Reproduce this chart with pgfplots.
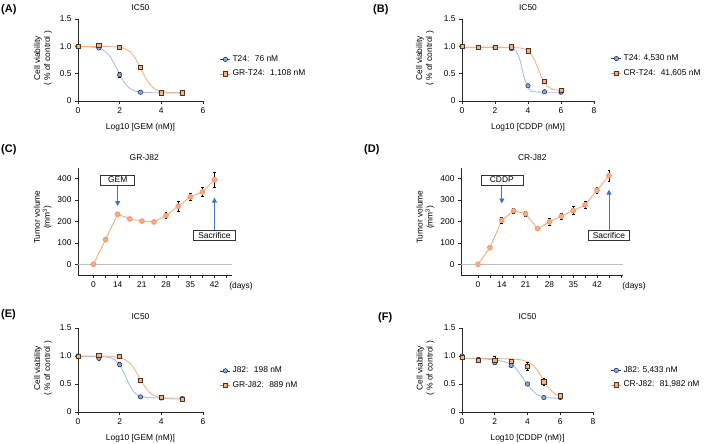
\documentclass[border=0pt]{standalone}
\usepackage{fontspec}
\setmainfont{Liberation Sans}
\usepackage{pgfplots}
\pgfplotsset{compat=1.18}
\usetikzlibrary{arrows.meta}

\definecolor{bfill}{HTML}{8FAADC}
\definecolor{bedge}{HTML}{1F3864}
\definecolor{ofill}{HTML}{F4B183}
\definecolor{oedge}{HTML}{4A3320}
\definecolor{bline}{HTML}{A4BEE6}
\definecolor{oline}{HTML}{F4B183}
\definecolor{arrowblue}{HTML}{4472C4}

\newcommand{\fs}{\fontsize{8.4}{10}\selectfont}

\tikzset{
  box/.style={draw=black!80, fill=white, font=\fs, inner xsep=3pt, inner ysep=1.5pt,
    minimum height=10pt},
  arr/.style={arrowblue, line width=0.8pt, -{Triangle[length=5pt, width=5pt]}}
}

\pgfplotsset{
  base/.style={scale only axis, anchor=south west, clip=false,
    axis x line*=bottom, axis y line*=left, tick align=outside,
    major tick length=3pt, font=\fs, tick label style={font=\fs},
    /pgf/number format/assume math mode=true,
    axis line style={line width=0.6pt, black!85},
    tick style={line width=0.6pt, black!85}},
  ic/.style={base, ymin=0, ymax=1.5, xmin=0,
    ytick={0,0.5,1,1.5}, yticklabels={0,0.5,1.0,1.5},
    title={IC50},
    title style={at={(axis description cs:0.5,1)}, anchor=center, yshift=5pt},
    ylabel={Cell viability\\( \% of control )},
    ylabel style={align=center, at={(axis description cs:-0.28,0.52)}, anchor=center},
    xlabel style={at={(axis description cs:0.5,0)}, anchor=center, yshift=-26pt},
    legend style={draw=none, fill=none, anchor=west, font=\fs, row sep=3pt,
      inner sep=0pt, cells={anchor=west}},
    legend image code/.code={
      \draw[#1, mark=none, solid] (0pt,0pt) -- (10pt,0pt);
      \draw[#1] plot coordinates {(5pt,0pt)};}},
  curveb/.style={bline, line width=0.9pt, smooth, no marks, forget plot},
  curveo/.style={oline, line width=0.9pt, smooth, no marks, forget plot},
  ptb/.style={only marks, mark=*, mark size=2.2pt,
    mark options={fill=bfill, draw=bedge, line width=0.6pt}, draw=bedge,
    error bars/.cd, y dir=both, y explicit,
    error bar style={black, line width=0.5pt},
    error mark options={rotate=90, mark size=1.3pt, black, line width=0.5pt}},
  pto/.style={only marks, mark=square*, mark size=2.1pt,
    mark options={fill=ofill, draw=oedge, line width=0.6pt}, draw=oline!80!black,
    error bars/.cd, y dir=both, y explicit,
    error bar style={black, line width=0.5pt},
    error mark options={rotate=90, mark size=1.3pt, black, line width=0.5pt}},
  tumor/.style={base, ymin=-50, ymax=450, ytick={0,100,200,300,400},
    height=107pt,
    ylabel={Tumor volume\\(mm\textsuperscript{3})},
    ylabel style={align=center, anchor=center},
    xlabel={(days)},
    xlabel style={at={(axis description cs:1,0)}, anchor=center},
    title style={anchor=center}},
  tline/.style={oline, line width=1pt, mark=*, mark size=2.3pt,
    mark options={fill=ofill, draw=ofill!85!red}, 
    error bars/.cd, y dir=both, y explicit,
    error bar style={black, line width=0.6pt},
    error mark options={rotate=90, mark size=1.4pt, black, line width=0.6pt}}
}

\begin{document}
\begin{tikzpicture}
\useasboundingbox (0pt,0pt) rectangle (709pt,-444pt);

\node[anchor=west, font=\bfseries\fontsize{11}{12}\selectfont, inner sep=0pt] at (1pt,-10pt) {(A)};
\node[anchor=west, font=\bfseries\fontsize{11}{12}\selectfont, inner sep=0pt] at (373pt,-10pt) {(B)};
\node[anchor=west, font=\bfseries\fontsize{11}{12}\selectfont, inner sep=0pt] at (1pt,-150pt) {(C)};
\node[anchor=west, font=\bfseries\fontsize{11}{12}\selectfont, inner sep=0pt] at (364pt,-150pt) {(D)};
\node[anchor=west, font=\bfseries\fontsize{11}{12}\selectfont, inner sep=0pt] at (1pt,-315pt) {(E)};
\node[anchor=west, font=\bfseries\fontsize{11}{12}\selectfont, inner sep=0pt] at (378pt,-318pt) {(F)};

% (A) GEM, T24 vs GR-T24
\begin{axis}[ic, at={(78pt,-101pt)}, width=125pt, height=82pt, xmax=6,
  xtick={0,2,4,6}, xlabel={Log10 [GEM (nM)]},
  legend style={at={(axis description cs:1.136,0.42)}}]
\addplot[curveb] coordinates {(0,0.999)(0.5,0.995)(1,0.968)(1.25,0.924)(1.5,0.832)(1.75,0.675)(2,0.483)(2.25,0.323)(2.5,0.229)(2.75,0.183)(3,0.164)(3.5,0.152)(4,0.150)(5,0.150)};
\addplot[curveo] coordinates {(0,1.0)(1,0.998)(1.5,0.997)(2,0.982)(2.25,0.956)(2.5,0.898)(2.75,0.782)(3,0.606)(3.25,0.418)(3.5,0.282)(3.75,0.208)(4,0.174)(4.5,0.154)(5,0.151)};
\addplot[ptb] coordinates {(0,1.0)+-(0,0.01) (1,0.97)+-(0,0.03) (2,0.48)+-(0,0.05) (3,0.16)+-(0,0.01) (4,0.15)+-(0,0.01) (5,0.15)+-(0,0.01)};
\addlegendentry{T24:~ 76 nM}
\addplot[pto] coordinates {(0,1.0)+-(0,0.01) (1,1.02)+-(0,0.02) (2,0.98)+-(0,0.02) (3,0.61)+-(0,0.02) (4,0.15)+-(0,0.01) (5,0.15)+-(0,0.01)};
\addlegendentry{GR-T24:~ 1,108 nM}
\end{axis}

% (B) CDDP, T24 vs CR-T24
\begin{axis}[ic, at={(462pt,-101pt)}, width=132pt, height=82pt, xmax=8,
  xtick={0,2,4,6,8}, xlabel={Log10 [CDDP (nM)]},
  legend style={at={(axis description cs:1.129,0.43)}}]
\addplot[curveb] coordinates {(0,0.98)(1,0.98)(2,0.98)(2.5,0.979)(3,0.968)(3.25,0.924)(3.5,0.760)(3.75,0.450)(4,0.240)(4.25,0.177)(4.5,0.164)(5,0.16)(6,0.16)};
\addplot[curveo] coordinates {(0,0.98)(1,0.98)(2,0.98)(3,0.979)(3.5,0.970)(3.75,0.955)(4,0.916)(4.25,0.829)(4.5,0.675)(4.75,0.486)(5,0.335)(5.25,0.252)(5.5,0.214)(6,0.194)};
\addplot[ptb] coordinates {(0,1.0)+-(0,0.01) (1,0.98)+-(0,0.01) (2,0.98)+-(0,0.01) (3,0.96)+-(0,0.02) (4,0.28)+-(0,0.01) (5,0.17)+-(0,0.01) (6,0.16)+-(0,0.01)};
\addlegendentry{T24: 4,530 nM}
\addplot[pto] coordinates {(0,1.0)+-(0,0.01) (1,0.98)+-(0,0.01) (2,0.98)+-(0,0.01) (3,0.99)+-(0,0.01) (4,0.92)+-(0,0.02) (5,0.36)+-(0,0.02) (6,0.20)+-(0,0.01)};
\addlegendentry{CR-T24:~ 41,605 nM}
\end{axis}

% (C) GR-J82 tumor volume
\begin{axis}[tumor, at={(78pt,-275pt)}, width=154pt, xmin=-1.28, xmax=11.45,
  xtick={0,...,11}, xticklabels={0,,14,,21,,28,,35,,42,},
  title={GR-J82}, title style={at={(axis description cs:0.43,1)}, yshift=4pt},
  ylabel style={at={(axis description cs:-0.23,0.54)}},
  xlabel style={xshift=9pt, yshift=-11pt}]
\addplot[black!25, line width=1.3pt, forget plot] coordinates {(-1.28,0) (11.45,0)};
\addplot[tline] coordinates {(0,0)+-(0,0) (1,116)+-(0,3) (2,234)+-(0,4) (3,212)+-(0,4) (4,202)+-(0,4) (5,198)+-(0,4) (6,228)+-(0,15) (7,271)+-(0,22) (8,315)+-(0,18) (9,338)+-(0,20) (10,395)+-(0,35)};
\draw[arr] (axis cs:2,372) -- (axis cs:2,272);
\node[box, minimum width=34pt] at (axis cs:2,395) {GEM};
\draw[arr] (axis cs:10,158) -- (axis cs:10,312);
\node[box, minimum width=42pt] at (axis cs:10,135) {Sacrifice};
\end{axis}

% (D) CR-J82 tumor volume
\begin{axis}[tumor, at={(461pt,-275pt)}, width=162pt, xmin=-1.43, xmax=12.18,
  xtick={0,...,12}, xticklabels={0,,14,,21,,28,,35,,42,,},
  title={CR-J82}, title style={at={(axis description cs:0.44,1)}, yshift=4pt},
  ylabel style={at={(axis description cs:-0.22,0.54)}},
  xlabel style={xshift=11pt, yshift=-11pt}]
\addplot[black!25, line width=1.3pt, forget plot] coordinates {(-1.43,0) (12.18,0)};
\addplot[tline] coordinates {(0,0)+-(0,0) (1,78)+-(0,3) (2,206)+-(0,15) (3,250)+-(0,12) (4,236)+-(0,12) (5,167)+-(0,5) (6,198)+-(0,15) (7,225)+-(0,13) (8,251)+-(0,18) (9,278)+-(0,15) (10,346)+-(0,14) (11,414)+-(0,25)};
\draw[arr] (axis cs:2,372) -- (axis cs:2,284);
\node[box, minimum width=42pt] at (axis cs:2,395) {CDDP};
\draw[arr] (axis cs:11,158) -- (axis cs:11,349);
\node[box, minimum width=41pt] at (axis cs:11,135) {Sacrifice};
\end{axis}

% (E) GEM, J82 vs GR-J82
\begin{axis}[ic, at={(78pt,-412pt)}, width=125pt, height=84pt, xmax=6,
  xtick={0,2,4,6}, xlabel={Log10 [GEM (nM)]},
  legend style={at={(axis description cs:1.136,0.405)}}]
\addplot[curveb] coordinates {(0,0.99)(1,0.988)(1.5,0.972)(1.75,0.935)(2,0.84)(2.25,0.66)(2.5,0.459)(2.75,0.332)(3,0.278)(3.5,0.253)(4,0.25)(5,0.25)};
\addplot[curveo] coordinates {(0,1.0)(1,0.999)(1.5,0.995)(2,0.972)(2.25,0.937)(2.5,0.865)(2.75,0.742)(3,0.58)(3.25,0.431)(3.5,0.33)(3.75,0.276)(4,0.25)(4.5,0.234)(5,0.231)};
\addplot[ptb] coordinates {(0,1.0)+-(0,0.01) (1,0.96)+-(0,0.03) (2,0.845)+-(0,0.035) (3,0.27)+-(0,0.01) (4,0.25)+-(0,0.01) (5,0.24)+-(0,0.01)};
\addlegendentry{J82:~ 198 nM}
\addplot[pto] coordinates {(0,1.0)+-(0,0.01) (1,1.01)+-(0,0.01) (2,0.99)+-(0,0.03) (3,0.57)+-(0,0.01) (4,0.26)+-(0,0.01) (5,0.22)+-(0,0.01)};
\addlegendentry{GR-J82:~ 889 nM}
\end{axis}

% (F) CDDP, J82 vs CR-J82
\begin{axis}[ic, at={(462pt,-412pt)}, width=131pt, height=84pt, xmax=8,
  xtick={0,2,4,6,8}, xlabel={Log10 [CDDP (nM)]},
  legend style={at={(axis description cs:1.137,0.41)}}]
\addplot[curveb] coordinates {(0,0.96)(1,0.955)(2,0.93)(2.5,0.905)(3,0.85)(3.25,0.79)(3.5,0.70)(3.75,0.59)(4,0.49)(4.25,0.40)(4.5,0.33)(4.75,0.29)(5,0.265)(5.5,0.25)(6,0.245)};
\addplot[curveo] coordinates {(0,0.96)(1,0.96)(2,0.955)(3,0.946)(3.5,0.936)(4,0.898)(4.25,0.853)(4.5,0.781)(4.75,0.678)(5,0.558)(5.25,0.448)(5.5,0.366)(5.75,0.313)(6,0.283)};
\addplot[ptb] coordinates {(0,1.0)+-(0,0.02) (1,0.94)+-(0,0.03) (2,0.88)+-(0,0.02) (3,0.83)+-(0,0.02) (4,0.50)+-(0,0.03) (5,0.26)+-(0,0.01) (6,0.26)+-(0,0.01)};
\addlegendentry{J82: 5,433 nM}
\addplot[pto] coordinates {(0,0.98)+-(0,0.02) (1,0.93)+-(0,0.05) (2,0.92)+-(0,0.07) (3,0.91)+-(0,0.04) (4,0.82)+-(0,0.07) (5,0.54)+-(0,0.07) (6,0.29)+-(0,0.02)};
\addlegendentry{CR-J82:~ 81,982 nM}
\end{axis}
\end{tikzpicture}
\end{document}
